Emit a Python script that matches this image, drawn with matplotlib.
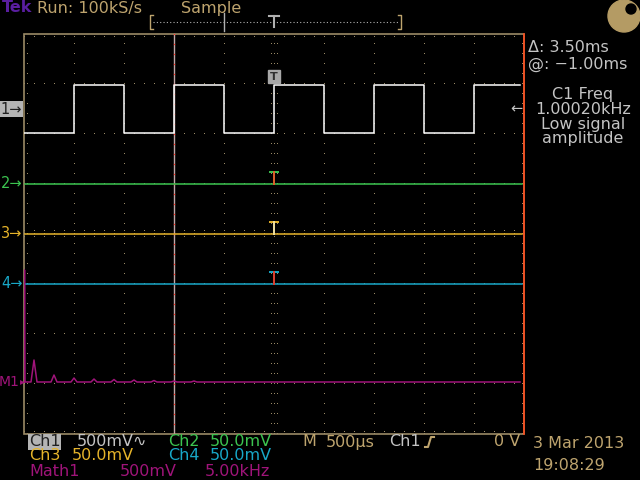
import numpy as np
import matplotlib
matplotlib.use('Agg')
from matplotlib import pyplot as plt
from matplotlib.patches import Rectangle, Circle

# scope settings
ms_per_div = 0.5          # M 500us
ch1_v_per_div = 0.5       # 500mV
khz_per_div = 5.0         # Math1 5.00kHz

# channel ground positions (divisions from centre)
ch1_pos = 2.5
ch2_pos = 1.0
ch3_pos = 0.0
ch4_pos = -1.0
math_pos = -2.96

# Ch1: 1 kHz square wave, AC coupled
ch1_edges_ms = [-2.0, -1.5, -1.0, -0.5, 0.0, 0.5, 1.0, 1.5, 2.0]
ch1_levels_v = [-0.24, 0.24, -0.24, 0.24, -0.24, 0.24, -0.24, 0.24, -0.24, 0.24]

# Math1: FFT of Ch1 (peak frequency kHz, height in divisions)
fft_peaks_khz = [1, 3, 5, 7, 9, 11, 13, 15, 17]
fft_heights_div = [0.44, 0.14, 0.08, 0.06, 0.05, 0.04, 0.03, 0.02, 0.02]
fft_dc_div = 2.24

# cursors
cursor_a_ms = -1.0
cursor_delta_ms = 3.5

# colours
BG = 'black'
TAN = '#bea46e'
GRID = '#9a8a66'
GREY = '#c4c4c4'
C1 = '#ffffff'
C2 = '#3cc450'
C3 = '#e6b42a'
C4 = '#18a8c8'
CM = '#a0147a'

fig = plt.figure(figsize=(6.4, 4.8), dpi=100, facecolor=BG)
ax = fig.add_axes([24 / 640, 46 / 480, 500 / 640, 400 / 480], zorder=2)
ax.set_xlim(-5, 5)
ax.set_ylim(-4, 4)
ax.axis('off')
ax.patch.set_alpha(0)

ov = fig.add_axes([0, 0, 1, 1], zorder=3)
ov.set_xlim(0, 640)
ov.set_ylim(480, 0)
ov.axis('off')
ov.patch.set_alpha(0)

# --- graticule
ax.add_patch(Rectangle((-5, -4), 10, 8, fill=False, ec=GRID, lw=1.2, clip_on=False))
ys = np.arange(-4, 4.001, 0.2)
xs = np.arange(-5, 5.001, 0.2)
for xv in range(-4, 5):
    ax.plot(np.full_like(ys, xv), ys, ',', color=GRID)
for yv in range(-3, 4):
    ax.plot(xs, np.full_like(xs, yv), ',', color=GRID)
for off in (-0.06, 0.06):
    ax.plot(xs, np.full_like(xs, off), ',', color=GRID)
    ax.plot(np.full_like(ys, off), ys, ',', color=GRID)
ax.plot(xs, np.full_like(xs, 3.95), ',', color=GRID)
ax.plot(xs, np.full_like(xs, -3.95), ',', color=GRID)
ax.plot(np.full_like(ys, -4.95), ys, ',', color=GRID)
ax.plot(np.full_like(ys, 4.95), ys, ',', color=GRID)

# --- cursors
xa = cursor_a_ms / ms_per_div
xb = (cursor_a_ms + cursor_delta_ms) / ms_per_div
ax.plot([xa, xa], [-4, 4], color='#c0a8a8', lw=1, clip_on=False)
ax.plot(np.full_like(ys, xa), ys, 's', ms=0.9, mew=0, color='#ff3020')
ax.plot([xb, xb], [-4, 4], color='#ff4a1a', lw=1.2, clip_on=False)

# --- Ch1 square wave
t_ms = [-2.5] + ch1_edges_ms + [2.46]
lv = ch1_levels_v + [ch1_levels_v[-1]]
ax.step(np.array(t_ms) / ms_per_div, np.array(lv) / ch1_v_per_div + ch1_pos,
        where='post', color=C1, lw=1.1)

# --- Ch2..Ch4 flat traces
for pos, col in [(ch2_pos, C2), (ch3_pos, C3), (ch4_pos, C4)]:
    ax.plot([-4.98, 4.96], [pos, pos], color=col, lw=1.1)

# --- Math FFT
fx = [0.0, 0.05, 0.1, 0.3]
fy = [0.0, fft_dc_div, 0.0, 0.0]
for f, h in zip(fft_peaks_khz, fft_heights_div):
    fx += [f - 0.3, f, f + 0.3]
    fy += [0.0, h, 0.0]
fx += [49.6]
fy += [0.0]
ax.plot(np.array(fx) / khz_per_div - 5, np.array(fy) + math_pos, color=CM, lw=1.1)

# --- trigger markers on channels
for pos, bar, stem in [(ch2_pos, C2, '#e0602a'), (ch3_pos, C3, '#f0e0a0'), (ch4_pos, C4, '#e04030')]:
    ax.plot([-0.08, 0.08], [pos + 0.24, pos + 0.24], color=bar, lw=1.4)
    ax.plot([0, 0], [pos + 0.24, pos], color=stem, lw=1.4)
ov.add_patch(Rectangle((268, 70), 12, 13, color='#a8a8a8'))
ov.text(274, 77, 'T', color='#303030', fontsize=8, ha='center', va='center', weight='bold')

# --- channel markers (left)
ax.text(-5.04, ch1_pos, '1\u2192', color='#202020', fontsize=10.5, ha='right', va='center',
        bbox=dict(fc='#b4b4b4', ec='none', pad=0.5), clip_on=False)
ax.text(-5.03, ch2_pos, '2\u2192', color=C2, fontsize=10.5, ha='right', va='center', clip_on=False)
ax.text(-5.03, ch3_pos, '3\u2192', color=C3, fontsize=10.5, ha='right', va='center', clip_on=False)
ax.text(-5.03, ch4_pos, '4\u2192', color=C4, fontsize=10.5, ha='right', va='center', clip_on=False)
ax.text(-5.09, math_pos, 'M1', color=CM, fontsize=10, ha='right', va='center', clip_on=False)
ax.plot([-5.04], [math_pos], '>', ms=3.5, mew=0, color=CM, clip_on=False)
ax.text(4.97, ch1_pos, '\u2190', color=GREY, fontsize=10.5, ha='right', va='center', clip_on=False)

# --- top bar
fs = 11.5
ov.text(2, 8, 'Tek', color='#5a1ea0', fontsize=fs, va='center', weight='bold')
ov.text(37, 8, 'Run: 100kS/s', color=TAN, fontsize=fs, va='center')
ov.text(181, 8, 'Sample', color=TAN, fontsize=fs, va='center')
ov.plot([153, 153, 150, 150, 153], [15, 15, 15, 29, 29], color=TAN, lw=1)
ov.plot([398, 401, 401, 398], [15, 15, 29, 29], color=TAN, lw=1)
ov.plot([153, 398], [22, 22], color='#b0b0b0', lw=0.8, ls=(0, (1, 2)))
ov.plot([224, 224], [13, 31], color='#b0b0b0', lw=1)
ov.plot([269, 279], [16, 16], color='#b0b0b0', lw=1.5)
ov.plot([274, 274], [16, 27], color='#b0b0b0', lw=1.5)
ov.add_patch(Circle((624, 16), 16, color='#b49b64'))
ov.add_patch(Circle((631, 9), 5, color=BG))

# --- right panel readouts
ov.text(528, 48, '\u0394: 3.50ms', color=GREY, fontsize=fs, va='center')
ov.text(528, 64, '@: \u22121.00ms', color=GREY, fontsize=fs, va='center')
for yy, s in [(94, 'C1 Freq'), (109, '1.00020kHz'), (124, 'Low signal'), (139, 'amplitude')]:
    ov.text(583, yy, s, color=GREY, fontsize=fs, ha='center', va='center')

# --- bottom readouts
ov.text(29, 442, 'Ch1', color='#202020', fontsize=fs, va='center',
        bbox=dict(fc='#b4b4b4', ec='none', pad=0.6))
ov.text(77, 442, '500mV\u223f', color=GREY, fontsize=fs, va='center')
ov.text(168, 442, 'Ch2', color=C2, fontsize=fs, va='center')
ov.text(210, 442, '50.0mV', color=C2, fontsize=fs, va='center')
ov.text(302, 442, 'M', color=TAN, fontsize=fs, va='center')
ov.text(326, 442, '500\u00b5s', color=TAN, fontsize=fs, va='center')
ov.text(389, 442, 'Ch1', color=GREY, fontsize=fs, va='center')
ov.plot([425, 428, 431, 434], [447, 447, 437, 437], color=TAN, lw=1.5)
ov.text(520, 442, '0 V', color=TAN, fontsize=fs, ha='right', va='center')
ov.text(533, 444, '3 Mar 2013', color=TAN, fontsize=fs, va='center')
ov.text(533, 466, '19:08:29', color=TAN, fontsize=fs, va='center')
ov.text(29, 456, 'Ch3', color=C3, fontsize=fs, va='center')
ov.text(72, 456, '50.0mV', color=C3, fontsize=fs, va='center')
ov.text(168, 456, 'Ch4', color=C4, fontsize=fs, va='center')
ov.text(210, 456, '50.0mV', color=C4, fontsize=fs, va='center')
ov.text(29, 471, 'Math1', color=CM, fontsize=fs, va='center')
ov.text(120, 471, '500mV', color=CM, fontsize=fs, va='center')
ov.text(205, 471, '5.00kHz', color=CM, fontsize=fs, va='center')

fig.savefig('out.png', dpi=100, facecolor=BG)
